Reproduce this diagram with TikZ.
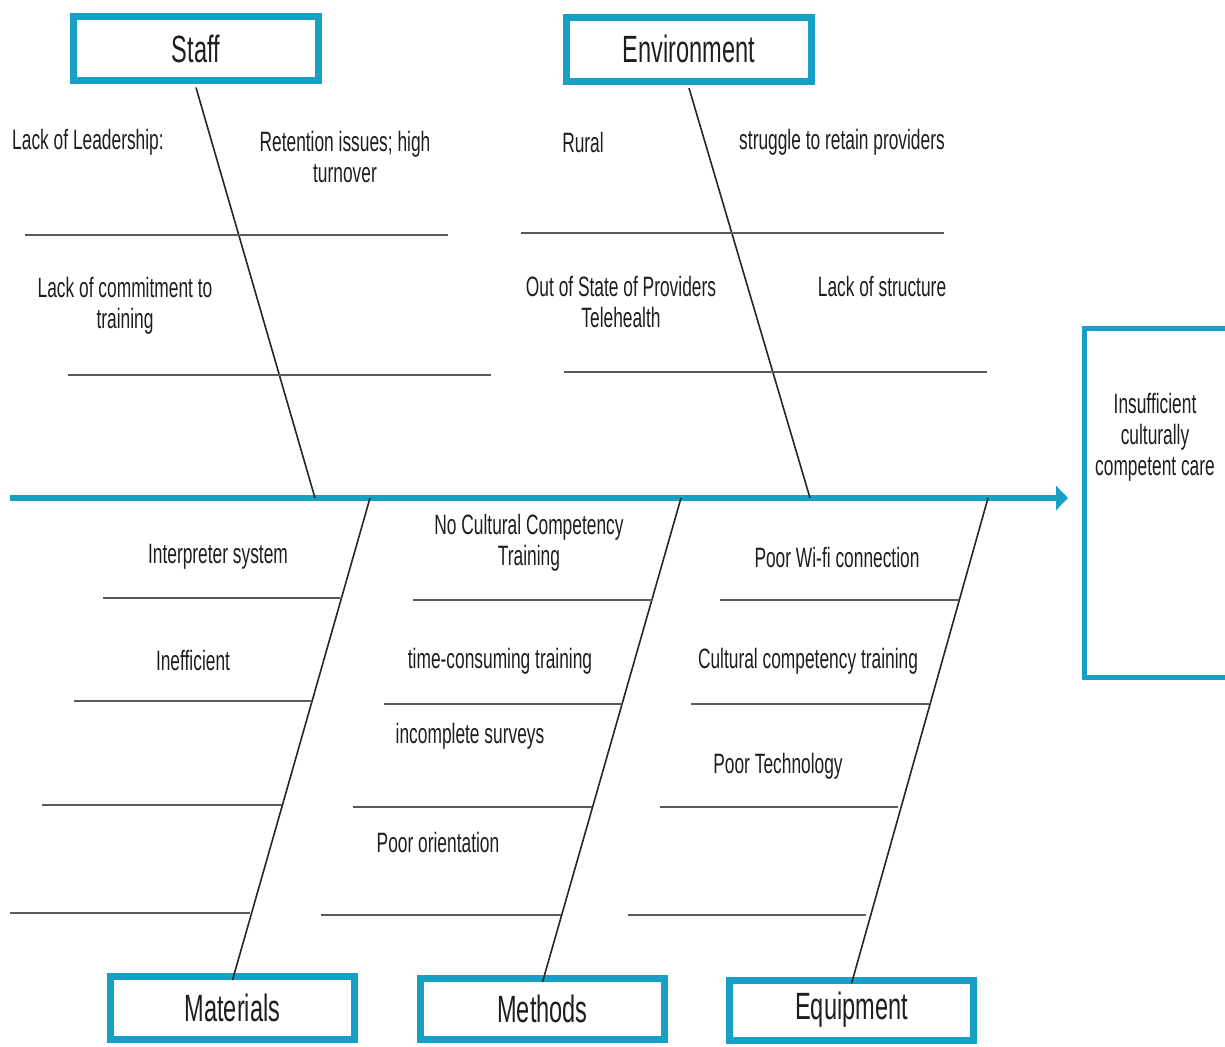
\documentclass[tikz,border=0pt]{standalone}
\usepackage{fontspec}
\setmainfont{Liberation Sans}[FakeStretch=0.62]
\usetikzlibrary{arrows.meta}
\definecolor{fishblue}{RGB}{22,160,198}
\definecolor{ribgray}{RGB}{90,90,90}
\definecolor{txt}{RGB}{30,30,30}
\begin{document}
\begin{tikzpicture}[x=0.5pt,y=-0.5pt,
  catbox/.style={draw=fishblue,line width=3.5pt,fill=white,minimum width=122.5pt,minimum height=32pt,inner sep=0pt,font=\fontsize{19}{22}\selectfont,text=txt},
  lbl/.style={align=center,font=\fontsize{14}{15.5}\selectfont,text=txt,inner sep=0pt},
  bone/.style={line width=0.8pt,draw=black!85},
  rib/.style={line width=1.3pt,draw=ribgray},
  spine/.style={line width=3pt,draw=fishblue,-{Triangle[length=6pt,width=12pt]}}]
\useasboundingbox (0,0) rectangle (1225,1046);
% category boxes
\node[catbox] (staff) at (196,48.5) {Staff};
\node[catbox] (env) at (689,49) {Environment};
\node[catbox,minimum width=122pt,minimum height=31.5pt] (mat) at (232.5,1008) {Materials};
\node[catbox,minimum width=122pt,minimum height=30.5pt] (meth) at (542.5,1009) {Methods};
\node[catbox,minimum width=122pt,minimum height=30pt] (equip) at (851.5,1010) {Equipment};
% effect box
\node[draw=fishblue,line width=2.5pt,minimum width=78pt,minimum height=174.5pt,inner sep=0pt] (effect) at (1162,503) {};
\node[lbl] (efftxt) at (1155,437) {Insufficient\\culturally\\competent care};
% spine
\coordinate (tail) at (10,498);
\coordinate (head) at (1068,498);
\draw[spine] (tail) -- (head);
% bone joints on the spine
\coordinate (js) at (315,498);
\coordinate (je) at (810,498);
\coordinate (jm) at (370,498);
\coordinate (jt) at (681,498);
\coordinate (jq) at (988,498);
\draw[bone] (staff.south) ++(0,3.5) -- (js);
\draw[bone] (env.south) ++(0,3.5) -- (je);
\draw[bone] (jm) -- ([yshift=-3.5pt]mat.north);
\draw[bone] (jt) -- ([yshift=-3.5pt]meth.north);
\draw[bone] (jq) -- ([yshift=-3.5pt]equip.north);
% ribs top
\draw[rib] (25,235) -- (448,235);
\draw[rib] (68,375) -- (491,375);
\draw[rib] (521,233) -- (944,233);
\draw[rib] (564,372) -- (987,372);
% ribs materials
\draw[rib] (103,598) -- (342,598);
\draw[rib] (74,701) -- (312,701);
\draw[rib] (42,805) -- (282,805);
\draw[rib] (10,913) -- (250,913);
% ribs methods
\draw[rib] (413,600) -- (652,600);
\draw[rib] (384,704) -- (622,704);
\draw[rib] (353,807) -- (592,807);
\draw[rib] (321,915) -- (561,915);
% ribs equipment
\draw[rib] (720,600) -- (959,600);
\draw[rib] (691,704) -- (929,704);
\draw[rib] (660,807) -- (898,807);
\draw[rib] (628,915) -- (866,915);
% labels
\node[lbl] (l1) at (88,142) {Lack of Leadership:};
\node[lbl] (l2) at (345,157) {Retention issues; high\\turnover};
\node[lbl] (l3) at (125,306) {Lack of commitment to\\training};
\node[lbl] (l4) at (583,142) {Rural};
\node[lbl] (l5) at (842,142) {struggle to retain providers};
\node[lbl] (l6) at (621,302) {Out of State of Providers\\Telehealth};
\node[lbl] (l7) at (882,286) {Lack of structure};
\node[lbl] (l8) at (218,557) {Interpreter system};
\node[lbl] (l9) at (193,660) {Inefficient};
\node[lbl] (l10) at (529,543) {No Cultural Competency\\Training};
\node[lbl] (l11) at (500,661) {time-consuming training};
\node[lbl] (l12) at (470,736) {incomplete surveys};
\node[lbl] (l13) at (438,842) {Poor orientation};
\node[lbl] (l14) at (837,557) {Poor Wi-fi connection};
\node[lbl] (l15) at (808,661) {Cultural competency training};
\node[lbl] (l16) at (778,766) {Poor Technology};
\end{tikzpicture}
\end{document}
